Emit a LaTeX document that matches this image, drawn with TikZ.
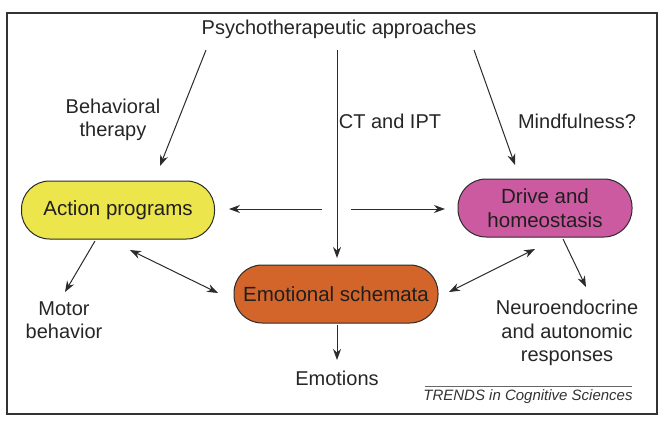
\documentclass[tikz,border=0pt]{standalone}
\usepackage{fontspec}
\setmainfont{Liberation Sans}
\usetikzlibrary{arrows.meta}
\definecolor{ayellow}{HTML}{ECE64C}
\definecolor{dpink}{HTML}{CC5AA0}
\definecolor{eorange}{HTML}{D3652B}
\definecolor{lgray}{HTML}{2B2B2B}
\begin{document}
\begin{tikzpicture}[x=1pt,y=-1pt,
  pill/.style={draw=lgray, line width=1pt, rounded corners=28pt, minimum height=58pt, align=center, font=\fontsize{20.5}{24}\selectfont, text=black!88},
  lbl/.style={align=center, font=\fontsize{20}{23.5}\selectfont, text=black!85},
  tip/.style={Stealth[length=11pt,width=8pt,inset=3.5pt]},
  arr/.style={draw=lgray, line width=1pt, -{Stealth[length=11pt,width=8pt,inset=3.5pt]}},
  darr/.style={draw=lgray, line width=1pt, {Stealth[length=11pt,width=8pt,inset=3.5pt]}-{Stealth[length=11pt,width=8pt,inset=3.5pt]}}]
\useasboundingbox (0,0) rectangle (664,424);
\draw[line width=1.4pt, draw=black!80] (7,13) rectangle (657,414);

\node[lbl] (psy) at (339,29) {Psychotherapeutic approaches};
\node[pill, fill=ayellow, minimum width=193pt] (act) at (118,210) {Action programs};
\node[pill, fill=dpink, minimum width=174pt] (drv) at (545,208) {Drive and\\homeostasis};
\node[pill, fill=eorange, minimum width=204pt] (emo) at (336,294) {Emotional schemata};

\node[lbl] (beh) at (113,120) {Behavioral\\therapy};
\node[lbl] (ct) at (390,121) {CT and IPT};
\node[lbl] (mind) at (577,121) {Mindfulness?};
\node[lbl] (mot) at (64,320) {Motor\\behavior};
\node[lbl] (neu) at (567,333) {Neuroendocrine\\and autonomic\\responses};
\node[lbl] (emos) at (337,378) {Emotions};
\node[font=\fontsize{15}{17}\selectfont\itshape, text=black!80] (tr) at (528,397) {TRENDS in Cognitive Sciences};

\coordinate (b1) at (206,50); \coordinate (b2) at (160,166);
\coordinate (c1) at (337,50); \coordinate (c2) at (337,258);
\coordinate (m1) at (474,50); \coordinate (m2) at (515,165);
\coordinate (l1) at (322,209); \coordinate (l2) at (229,209);
\coordinate (r1) at (351,209); \coordinate (r2) at (445,209);
\coordinate (a1) at (95,241); \coordinate (a2) at (65,292);
\coordinate (d1) at (130,250); \coordinate (d2) at (218,293);
\coordinate (e1) at (449,292); \coordinate (e2) at (535,249);
\coordinate (n1) at (563,239); \coordinate (n2) at (586,287);
\coordinate (o1) at (337,325); \coordinate (o2) at (337,360);
\coordinate (t1) at (425,386); \coordinate (t2) at (632,386);

\draw[arr] (b1) -- (b2);
\draw[arr] (c1) -- (c2);
\draw[arr] (m1) -- (m2);
\draw[arr] (l1) -- (l2);
\draw[arr] (r1) -- (r2);
\draw[arr] (a1) -- (a2);
\draw[darr] (d1) -- (d2);
\draw[darr] (e1) -- (e2);
\draw[arr] (n1) -- (n2);
\draw[arr] (o1) -- (o2);
\draw[draw=black!60, line width=0.6pt] (t1) -- (t2);
\end{tikzpicture}
\end{document}
